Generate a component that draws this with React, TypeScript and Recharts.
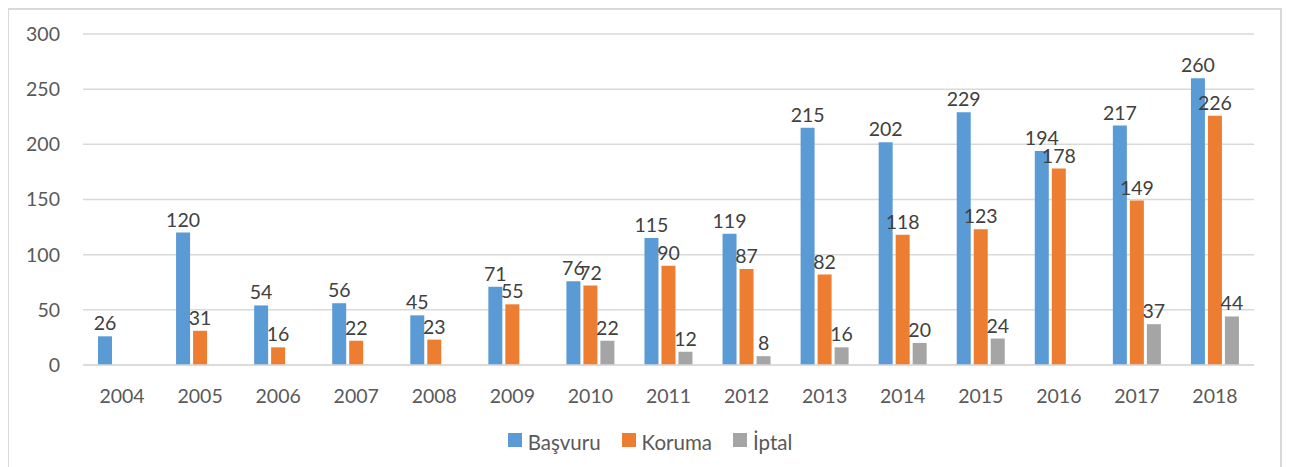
import { Bar, BarChart, CartesianGrid, LabelList, Legend, XAxis, YAxis } from 'recharts';

const years = ['2004', '2005', '2006', '2007', '2008', '2009', '2010', '2011', '2012', '2013', '2014', '2015', '2016', '2017', '2018'];
const basvuru = [26, 120, 54, 56, 45, 71, 76, 115, 119, 215, 202, 229, 194, 217, 260];
const koruma = [null, 31, 16, 22, 23, 55, 72, 90, 87, 82, 118, 123, 178, 149, 226];
const iptal = [null, null, null, null, null, null, 22, 12, 8, 16, 20, 24, null, 37, 44];
const yTicks = [0, 50, 100, 150, 200, 250, 300];

const series = [
  { key: 'basvuru', name: 'Başvuru', color: '#5B9BD5' },
  { key: 'koruma', name: 'Koruma', color: '#ED7D31' },
  { key: 'iptal', name: 'İptal', color: '#A5A5A5' }
];

const data = years.map((y, i) => ({
  year: y,
  basvuru: basvuru[i],
  koruma: koruma[i],
  iptal: iptal[i]
}));

const font = 'Lato, "Open Sans", sans-serif';

const renderLabel = (props: any) => {
  const { x, y, width, value } = props;
  if (value === null || value === undefined) return null;
  return (
    <text x={x + width / 2} y={y - 6} textAnchor="middle" fill="#404040" fontSize={19.5} fontFamily={font}>
      {value}
    </text>
  );
};

const renderLegend = () => (
  <div
    style={{
      display: 'flex',
      justifyContent: 'center',
      paddingLeft: 38,
      fontFamily: font,
      fontSize: 20.5,
      color: '#595959'
    }}
  >
    {series.map((s, i) => (
      <div key={s.key} style={{ display: 'flex', alignItems: 'center', marginLeft: i ? 21 : 0 }}>
        <span style={{ width: 14, height: 14, background: s.color, display: 'inline-block', marginRight: 6, marginTop: -4 }} />
        <span>{s.name}</span>
      </div>
    ))}
  </div>
);

export default function App() {
  return (
    <div style={{ position: 'relative', width: 1276, height: 459 }}>
      <div
        style={{
          position: 'absolute',
          left: -1,
          top: 0,
          width: 1275,
          height: 470,
          border: '2px solid #d9d9d9',
          boxSizing: 'border-box'
        }}
      />
      <BarChart
        width={1276}
        height={459}
        data={data}
        margin={{ top: 26, right: 30, left: 0, bottom: 13 }}
        barSize={14}
        barGap={3}
      >
        <CartesianGrid vertical={false} stroke="#d9d9d9" strokeWidth={1.5} />
        <XAxis
          dataKey="year"
          axisLine={{ stroke: '#d9d9d9', strokeWidth: 1.5 }}
          tickLine={false}
          tickMargin={18}
          height={65}
          tick={{ fill: '#595959', fontSize: 19.5, fontFamily: font }}
        />
        <YAxis
          domain={[0, 300]}
          ticks={yTicks}
          axisLine={false}
          tickLine={false}
          width={75}
          tickMargin={17}
          tick={{ fill: '#595959', fontSize: 19.5, fontFamily: font }}
        />
        <Legend verticalAlign="bottom" content={renderLegend} />
        {series.map((s) => (
          <Bar key={s.key} dataKey={s.key} name={s.name} fill={s.color} isAnimationActive={false}>
            <LabelList dataKey={s.key} content={renderLabel} />
          </Bar>
        ))}
      </BarChart>
    </div>
  );
}
